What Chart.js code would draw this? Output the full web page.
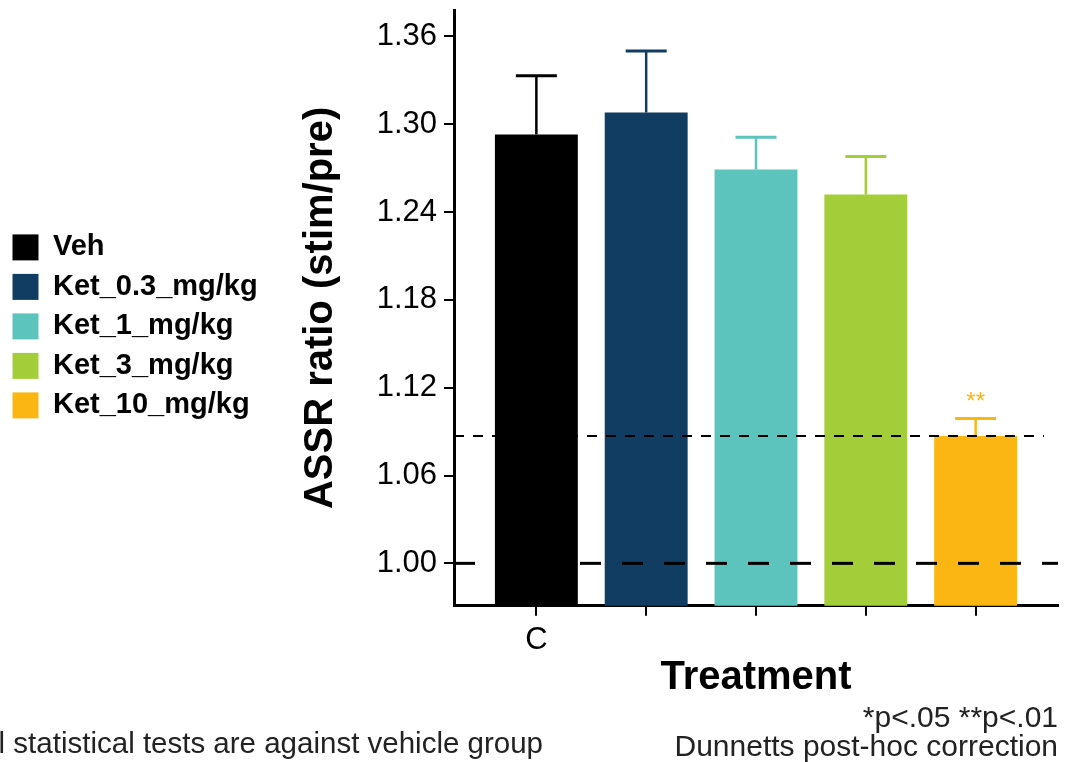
<!DOCTYPE html>
<html>
<head>
<meta charset="utf-8">
<script src="https://cdn.jsdelivr.net/npm/chart.js@4.4.0/dist/chart.umd.min.js"></script>
<style>
  html, body { margin: 0; padding: 0; background: #fff; }
  #wrap { width: 1066px; height: 762px; }
</style>
</head>
<body>
<div id="wrap"><canvas id="chart"></canvas></div>
<script>
// --- data ---
const groups = ['Veh', 'Ket_0.3_mg/kg', 'Ket_1_mg/kg', 'Ket_3_mg/kg', 'Ket_10_mg/kg'];
const tickLabels = ['C', '', '', '', ''];
const means = [1.293, 1.308, 1.269, 1.252, 1.087];
const errTops = [1.333, 1.350, 1.291, 1.278, 1.099];
const stars = ['', '', '', '', '**'];
const yTicks = [1.00, 1.06, 1.12, 1.18, 1.24, 1.30, 1.36];
const refLine = 1.087;   // short dashed line
const baseLine = 1.00;   // long dashed line
const colors = ['#000000', '#123d62', '#5dc4bd', '#a4ce39', '#fbb614'];

const FONT = "'Liberation Sans', Arial, Helvetica, sans-serif";

// error bars, reference lines, stars and footnotes
const extras = {
    id: 'extras',
    afterDatasetsDraw(chart) {
        const ctx = chart.ctx;
        const y = chart.scales.y;
        const area = chart.chartArea;
        const meta = chart.getDatasetMeta(0);
        ctx.save();
        meta.data.forEach((bar, i) => {
            const x = bar.x;
            const yTop = y.getPixelForValue(errTops[i]);
            const yBar = y.getPixelForValue(means[i]);
            ctx.strokeStyle = colors[i];
            ctx.lineWidth = 2.5;
            ctx.beginPath();
            ctx.moveTo(x, yBar);
            ctx.lineTo(x, yTop);
            ctx.stroke();
            ctx.lineWidth = 3;
            ctx.beginPath();
            ctx.moveTo(x - 20.5, yTop);
            ctx.lineTo(x + 20.5, yTop);
            ctx.stroke();
            if (stars[i]) {
                ctx.fillStyle = colors[i];
                ctx.font = '24px ' + FONT;
                ctx.textAlign = 'center';
                ctx.textBaseline = 'bottom';
                ctx.fillText(stars[i], x, yTop - 4);
            }
        });
        // long dashes at 1.00
        ctx.strokeStyle = '#000';
        ctx.lineWidth = 3;
        ctx.setLineDash([21, 21]);
        let py = y.getPixelForValue(baseLine);
        ctx.beginPath();
        ctx.moveTo(area.left, py);
        ctx.lineTo(area.right, py);
        ctx.stroke();
        // short dashes
        ctx.lineWidth = 2;
        ctx.setLineDash([10, 9]);
        py = y.getPixelForValue(refLine);
        ctx.beginPath();
        ctx.moveTo(area.left, py);
        ctx.lineTo(area.right - 14, py);
        ctx.stroke();
        ctx.restore();
    },
    afterDraw(chart) {
        const ctx = chart.ctx;
        ctx.save();
        ctx.fillStyle = '#222';
        ctx.textBaseline = 'alphabetic';
        ctx.textAlign = 'right';
        ctx.font = '29.5px ' + FONT;
        ctx.fillText('All statistical tests are against vehicle group', 543, 753);
        ctx.font = '30px ' + FONT;
        ctx.fillText('*p<.05 **p<.01', 1058, 727);
        ctx.fillText('Dunnetts post-hoc correction', 1058, 756);
        ctx.restore();
    }
};

new Chart(document.getElementById('chart'), {
    type: 'bar',
    data: {
        datasets: [{
            data: means.map((v, i) => ({ x: i, y: v })),
            backgroundColor: colors,
            borderWidth: 0,
            barPercentage: 1,
            categoryPercentage: 0.755
        }]
    },
    options: {
        responsive: true,
        maintainAspectRatio: false,
        animation: false,
        layout: { padding: { top: 10, right: 8, bottom: 60, left: 2 } },
        plugins: {
            tooltip: { enabled: false },
            legend: {
                position: 'left',
                align: 'start',
                // empty title only used to push the items down
                title: { display: true, text: '', font: { size: 12 }, padding: { top: 198, bottom: 0 } },
                labels: {
                    boxWidth: 26,
                    boxHeight: 26,
                    padding: 10.5,
                    color: '#000',
                    font: { family: FONT, size: 29, weight: 'bold' },
                    generateLabels: () => groups.map((g, i) => ({
                        text: g,
                        fillStyle: colors[i],
                        strokeStyle: colors[i],
                        fontColor: '#000',
                        lineWidth: 0,
                        hidden: false,
                        index: i,
                        datasetIndex: 0
                    }))
                },
                onClick: null
            }
        },
        scales: {
            x: {
                type: 'linear',
                min: -0.75,
                max: 4.75,
                offset: false,
                afterBuildTicks: s => { s.ticks = tickLabels.map((t, i) => ({ value: i })); },
                ticks: {
                    color: '#000',
                    font: { family: FONT, size: 31 },
                    padding: 6,
                    maxRotation: 0,
                    callback: (v, i) => tickLabels[i]
                },
                grid: { offset: false, drawOnChartArea: false, drawTicks: true, tickLength: 10, color: '#000', lineWidth: 2 },
                border: { display: true, color: '#000', width: 3 },
                title: {
                    display: true,
                    text: 'Treatment',
                    color: '#000',
                    font: { family: FONT, size: 40, weight: 'bold' },
                    padding: { top: -11, bottom: 0 }
                }
            },
            y: {
                min: 0.971,
                max: 1.378,
                afterBuildTicks: s => { s.ticks = yTicks.map(v => ({ value: v })); },
                afterFit: s => { s.width = 188; s.paddingTop = 0; s.paddingBottom = 0; },
                ticks: {
                    color: '#000',
                    font: { family: FONT, size: 31 },
                    padding: 7,
                    callback: v => v.toFixed(2)
                },
                grid: { drawOnChartArea: false, drawTicks: true, tickLength: 10, color: '#000', lineWidth: 2 },
                border: { display: true, color: '#000', width: 3 },
                title: {
                    display: true,
                    text: 'ASSR ratio (stim/pre)',
                    color: '#000',
                    font: { family: FONT, size: 40, weight: 'bold' },
                    padding: { top: 31, bottom: 0 }
                }
            }
        }
    },
    plugins: [extras]
});
</script>
</body>
</html>
